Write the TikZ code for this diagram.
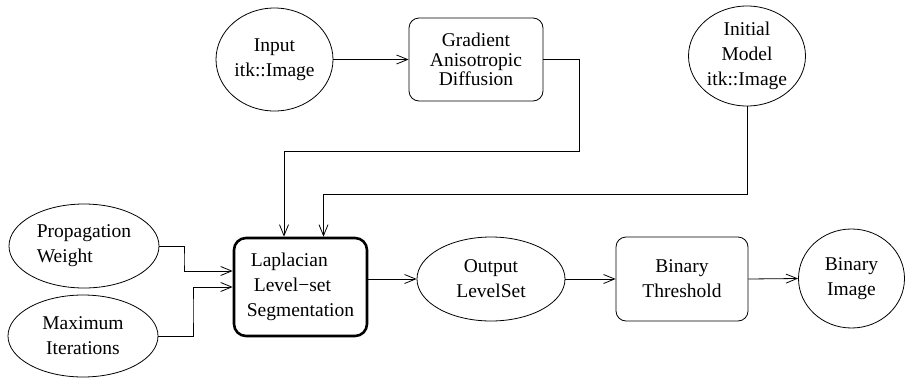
\documentclass[tikz,border=0pt]{standalone}
\usepackage{fontspec}
\setmainfont{Liberation Serif}
\usetikzlibrary{shapes.geometric,arrows.meta}
\begin{document}
\begin{tikzpicture}[x=1pt,y=-1pt,
  every node/.style={inner sep=0pt, align=center, font=\fontsize{19.5}{25}\selectfont},
  ell/.style={draw, ellipse, line width=0.8pt},
  box/.style={draw, rectangle, rounded corners=10pt, line width=0.8pt},
  conn/.style={line width=0.8pt},
  arr/.style={conn, -{Straight Barb[length=11pt,width=9pt,line width=0.8pt]}}]
\useasboundingbox (0,0) rectangle (905,378);
% nodes
\node[ell, minimum width=117pt, minimum height=103pt] (in) at (274.5,59.5) {Input\\itk::Image};
\node[box, minimum width=134pt, minimum height=83pt, font=\fontsize{19.5}{19.5}\selectfont] (grad) at (476,59.5) {Gradient\\Anisotropic\\Diffusion};
\node[ell, minimum width=117pt, minimum height=100pt] (init) at (747,56) {Initial\\Model\\itk::Image};
\node[ell, minimum width=150pt, minimum height=84pt, align=left] (prop) at (84,246) {Propagation\\Weight};
\node[ell, minimum width=150pt, minimum height=82pt] (max) at (83,336) {Maximum\\Iterations};
\node[draw, rectangle, rounded corners=12pt, line width=2.6pt, minimum width=133pt, minimum height=98pt, align=left] (lap) at (300.5,287) {\hspace{4pt}Laplacian\\\hspace{7pt}Level−set\\Segmentation};
\node[ell, minimum width=148pt, minimum height=84pt] (out) at (491,279) {Output\\LevelSet};
\node[box, minimum width=132pt, minimum height=84pt] (thr) at (682,279) {Binary\\Threshold};
\node[ell, minimum width=106pt, minimum height=99pt] (bin) at (851.5,278.5) {Binary\\Image};
% waypoints
\coordinate (c1) at (579,151);
\coordinate (c2) at (747,194);
\coordinate (p1) at (184,260);
\coordinate (m1) at (193,310);
% connectors
\draw[arr] (in.east) -- (grad.west);
\draw[arr] (grad.east) -| (c1) -| ([xshift=-16.5pt]lap.north);
\draw[arr] (init.south) -- (c2) -| ([xshift=23pt]lap.north);
\draw[arr] (prop.east) -| (p1) |- ([yshift=16pt]lap.west);
\draw[arr] (max.east) -| (m1) |- (lap.west);
\draw[arr] (out.west -| lap.east) -- (out.west);
\draw[arr] (out.east) -- (thr.west);
\draw[arr] (thr.east) -- (bin.west);
\end{tikzpicture}
\end{document}
